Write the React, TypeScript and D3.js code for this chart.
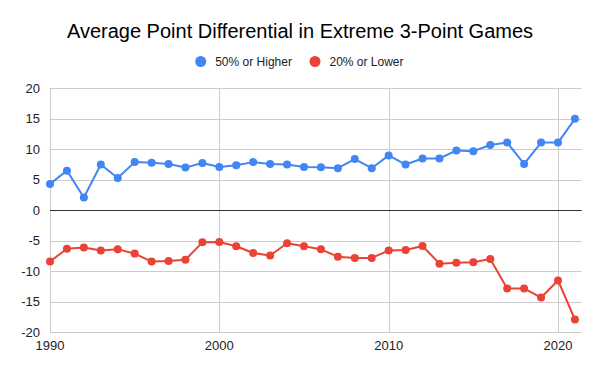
import React, { useRef, useEffect } from 'react';
import * as d3 from 'd3';

// 数据：年份和两组平均分差
const years: number[] = d3.range(1990, 2022);
const highValues: number[] = [
  4.3, 6.5, 2.1, 7.5, 5.3, 7.9, 7.8, 7.6, 7.0, 7.75,
  7.1, 7.4, 7.9, 7.6, 7.5, 7.1, 7.05, 6.9, 8.4, 6.9,
  9.0, 7.5, 8.5, 8.5, 9.8, 9.7, 10.7, 11.1, 7.6, 11.1,
  11.1, 15.0
];
const lowValues: number[] = [
  -8.4, -6.3, -6.1, -6.6, -6.4, -7.1, -8.4, -8.3, -8.1, -5.25,
  -5.2, -5.9, -7.0, -7.4, -5.4, -5.9, -6.4, -7.6, -7.8, -7.8,
  -6.6, -6.5, -5.85, -8.75, -8.6, -8.5, -8.0, -12.8, -12.8, -14.3,
  -11.5, -17.9
];
const seriesNames: string[] = ['50% or Higher', '20% or Lower'];
const seriesColors: string[] = ['#4285F4', '#EA4335'];
const yTicks: number[] = [-20, -15, -10, -5, 0, 5, 10, 15, 20];
const xTicks: number[] = [1990, 2000, 2010, 2020];
const chartTitle = 'Average Point Differential in Extreme 3-Point Games';

const FONT = '"Liberation Sans", Arial, sans-serif';

function drawChart(svgEle: SVGSVGElement) {
  const svg = d3.select(svgEle);
  svg.selectAll('*').remove();

  const left = 50;
  const right = 581.7;
  const top = 88.3;
  const bottom = 332.3;

  const x = d3.scaleLinear().domain([1990, 2021.4]).range([left, right]);
  const y = d3.scaleLinear().domain([-20, 20]).range([bottom, top]);

  svg.append('rect').attr('width', 600).attr('height', 371).attr('fill', 'white');

  // 标题
  svg
    .append('text')
    .attr('x', 300)
    .attr('y', 38)
    .attr('text-anchor', 'middle')
    .attr('font-family', FONT)
    .attr('font-size', 20)
    .attr('fill', '#000')
    .text(chartTitle);

  // 图例
  const legendItems = [
    { name: seriesNames[0], color: seriesColors[0], cx: 200.7 },
    { name: seriesNames[1], color: seriesColors[1], cx: 315 }
  ];
  const legend = svg.append('g');
  legendItems.forEach((d) => {
    legend
      .append('circle')
      .attr('cx', d.cx)
      .attr('cy', 61.5)
      .attr('r', 5.5)
      .attr('fill', d.color);
    legend
      .append('text')
      .attr('x', d.cx + 14.5)
      .attr('y', 66)
      .attr('font-family', FONT)
      .attr('font-size', 12)
      .attr('fill', '#222')
      .text(d.name);
  });

  // 横向网格线
  svg
    .append('g')
    .selectAll('line')
    .data(yTicks.filter((t) => t !== 0))
    .enter()
    .append('line')
    .attr('x1', left)
    .attr('x2', right)
    .attr('y1', (d) => Math.round(y(d)) + 0.5)
    .attr('y2', (d) => Math.round(y(d)) + 0.5)
    .attr('stroke', '#cccccc');

  // 纵向网格线
  svg
    .append('g')
    .selectAll('line')
    .data(xTicks)
    .enter()
    .append('line')
    .attr('x1', (d) => Math.round(x(d)) + 0.5)
    .attr('x2', (d) => Math.round(x(d)) + 0.5)
    .attr('y1', top)
    .attr('y2', bottom)
    .attr('stroke', '#cccccc');

  // 零线
  svg
    .append('line')
    .attr('x1', left)
    .attr('x2', right)
    .attr('y1', Math.round(y(0)) + 0.5)
    .attr('y2', Math.round(y(0)) + 0.5)
    .attr('stroke', '#333');

  // y 轴标签
  svg
    .append('g')
    .selectAll('text')
    .data(yTicks)
    .enter()
    .append('text')
    .attr('x', 40)
    .attr('y', (d) => y(d) + 4.5)
    .attr('text-anchor', 'end')
    .attr('font-family', FONT)
    .attr('font-size', 13)
    .attr('fill', '#222')
    .text((d) => String(d));

  // x 轴标签
  svg
    .append('g')
    .selectAll('text')
    .data(xTicks)
    .enter()
    .append('text')
    .attr('x', (d) => x(d))
    .attr('y', 350)
    .attr('text-anchor', 'middle')
    .attr('font-family', FONT)
    .attr('font-size', 13)
    .attr('fill', '#222')
    .text((d) => String(d));

  // 折线与点
  const allSeries = [highValues, lowValues];
  allSeries.forEach((values, i) => {
    const line = d3
      .line<number>()
      .x((_, j) => x(years[j]))
      .y((d) => y(d));
    svg
      .append('path')
      .datum(values)
      .attr('d', line)
      .attr('fill', 'none')
      .attr('stroke', seriesColors[i])
      .attr('stroke-width', 2)
      .attr('stroke-linejoin', 'round');
    svg
      .append('g')
      .selectAll('circle')
      .data(values)
      .enter()
      .append('circle')
      .attr('cx', (_, j) => x(years[j]))
      .attr('cy', (d) => y(d))
      .attr('r', 4)
      .attr('fill', seriesColors[i]);
  });
}

export default function App(): JSX.Element {
  const svgRef = useRef<SVGSVGElement>(null);

  useEffect(() => {
    const svgEle = svgRef.current;
    if (svgEle == null) {
      return;
    }
    drawChart(svgEle);
  }, []);

  return (
    <svg
      ref={svgRef}
      width={600}
      height={371}
      style={{ position: 'absolute', left: 0, top: 0, display: 'block' }}
    />
  );
}
